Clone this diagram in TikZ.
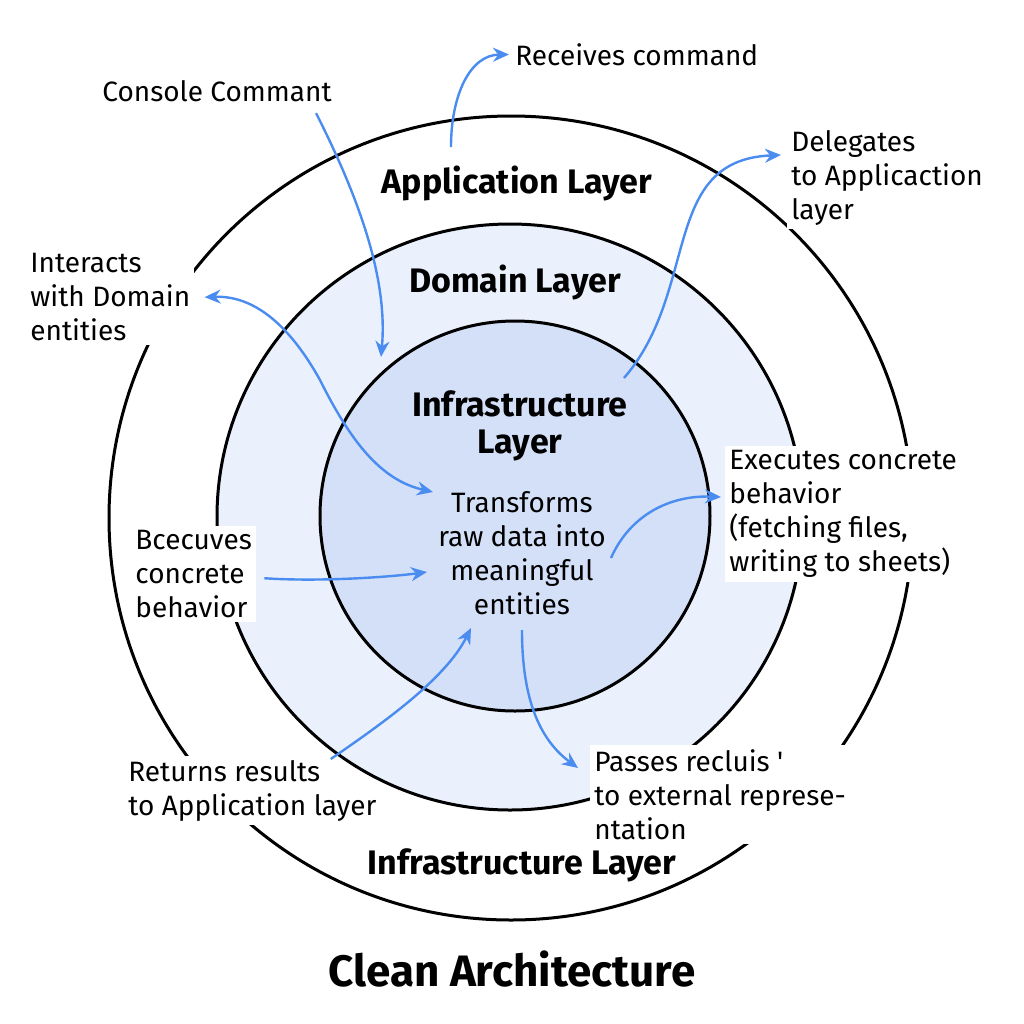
\documentclass[tikz,border=0pt]{standalone}
\usepackage{fontspec}
\setmainfont{Fira Sans}
\usetikzlibrary{arrows.meta}
\definecolor{flowblue}{HTML}{4A8CF0}
\definecolor{domfill}{HTML}{EAF1FD}
\definecolor{infrafill}{HTML}{D3E0F8}

\begin{document}
\begin{tikzpicture}[x=0.5pt,y=-0.5pt,
  ring/.style={draw=black,line width=1.5pt},
  note/.style={fill=white,inner sep=2pt,anchor=north west,align=left,font=\fontsize{14}{17}\selectfont},
  layer/.style={inner sep=0pt,font=\fontsize{17}{18.5}\selectfont\bfseries},
  flow/.style={draw=flowblue,line width=1.2pt,-{Stealth[length=8pt,width=7pt]}}]
 \useasboundingbox[fill=white] (0,0) rectangle (1024,1024);
 \draw[ring] (511,518) circle[radius=201pt];
 \node[note] (returns) at (124,756) {Returns results\\to Application layer};
 \draw[ring,fill=domfill] (510,517) circle[radius=146.5pt];
 \draw[ring,fill=infrafill] (515,516) circle[radius=97.5pt];
 % labels round the rings
 \node[note] (recv) at (511,39) {Receives command};
 \node[note] (console) at (98,76) {Console Commant};
 \node[note] (deleg) at (787,126) {Delegates\\to Applicaction\\layer};
 \node[note] (interact) at (26,249) {Interacts\\with Domain\\entities};
 \node[note] (exec) at (725,446) {Executes concrete\\behavior\\(fetching files,\\writing to sheets)};
 \node[note] (becuv) at (131,526) {Bcecuves\\concrete\\behavior};
 \node[note] (passes) at (590,745) {Passes recluis \textquotesingle\\to external represe-\\ntation};
 \node[note,fill=none,anchor=north,align=center,inner sep=0pt] (transf) at (522,491) {Transforms\\raw data into\\meaningful\\entities};
 % layer names
 \node[layer,anchor=base] (applbl) at (517,193) {Application Layer};
 \node[layer,anchor=base] (domlbl) at (515,292) {Domain Layer};
 \node[layer,anchor=north,align=center] (infralbl) at (520,390) {Infrastructure\\Layer};
 \node[layer,anchor=base] (infrabot) at (522,874) {Infrastructure Layer};
 \node[inner sep=0pt,anchor=base,font=\fontsize{22}{26}\selectfont\bfseries] (title) at (512,986) {Clean Architecture};
 % free ends of the arrows
 \coordinate (recvfoot) at (451,147);
 \coordinate (consoletip) at (381,357);
 \coordinate (delegfoot) at (624,378);
 \coordinate (interacttip) at (433,492);
 \coordinate (becuvtip) at (427,572);
 \coordinate (execfoot) at (611,558);
 \coordinate (returnstip) at (471,628);
 \coordinate (passesfoot) at (522,630);
 \draw[flow] (recvfoot) .. controls (451,95) and (470,55) .. ([xshift=-1pt]recv.west);
 \draw[flow] ([xshift=-10pt,yshift=-3.5pt]console.south east) .. controls (360,200) and (388,280) .. (consoletip);
 \draw[flow] (delegfoot) .. controls (700,290) and (660,160) .. ([xshift=-3pt,yshift=-14.5pt]deleg.north west);
 \draw[flow,{Stealth[length=8pt,width=7pt]}-{Stealth[length=8pt,width=7pt]}] ([xshift=5pt]interact.east) .. controls (260,295) and (295,335) .. (320,380) .. controls (350,440) and (380,480) .. (interacttip);
 \draw[flow] ([xshift=4pt,yshift=-2pt]becuv.east) .. controls (320,582) and (390,577) .. (becuvtip);
 \draw[flow] (execfoot) .. controls (630,515) and (670,495) .. ([xshift=-2pt,yshift=-25.5pt]exec.north west);
 \draw[flow] ([xshift=-25pt,yshift=-1.5pt]returns.north east) .. controls (380,725) and (445,680) .. (returnstip);
 \draw[flow] (passesfoot) .. controls (522,700) and (540,740) .. ([xshift=-6pt,yshift=-11.5pt]passes.north west);
\end{tikzpicture}
\end{document}
